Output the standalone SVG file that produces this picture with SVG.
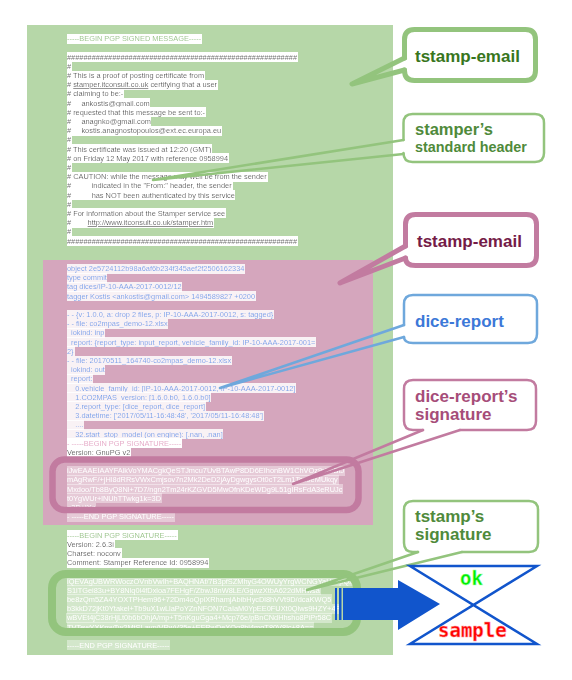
<svg xmlns="http://www.w3.org/2000/svg" width="572" height="680" viewBox="0 0 572 680">
<defs>
<filter id="hw" x="0" y="-0.3" width="1" height="1.6" primitiveUnits="objectBoundingBox"><feFlood x="0" y="0" width="1" height="1" flood-color="#ffffff" result="f"/><feMerge><feMergeNode in="f"/><feMergeNode in="SourceGraphic"/></feMerge></filter>
<filter id="hb" x="0" y="-0.3" width="1" height="1.6" primitiveUnits="objectBoundingBox"><feFlood x="0" y="0" width="1" height="1" flood-color="#ffffff" flood-opacity="0.85" result="f"/><feMerge><feMergeNode in="f"/><feMergeNode in="SourceGraphic"/></feMerge></filter>
<filter id="ht" x="0" y="-0.3" width="1" height="1.6" primitiveUnits="objectBoundingBox"><feFlood x="0" y="0" width="1" height="1" flood-color="#ffffff" flood-opacity="0.4" result="f"/><feMerge><feMergeNode in="f"/><feMergeNode in="SourceGraphic"/></feMerge></filter>
<style>
.t{font-family:"Liberation Sans",Arial,sans-serif;font-size:7.4px}
.k{fill:#222222;filter:url(#hw)}
.gh{fill:#93c47d;filter:url(#hw)}
.bl{fill:#6d9eeb;filter:url(#hb)}
.ph{fill:#e6a3c6;filter:url(#hw)}
.tr{fill:#ffffff;filter:url(#ht)}
.lbl{font-family:"Liberation Sans",Arial,sans-serif;font-weight:bold;font-size:17px}
.box{fill:none;stroke-linejoin:round;stroke-linecap:round}
.gthick{stroke:#93c47d;stroke-width:5}
.gthin{stroke:#93c47d;stroke-width:2.5}
.pthick{stroke:#c27ba0;stroke-width:5}
.pthin{stroke:#c27ba0;stroke-width:2.5}
.bthin{stroke:#6fa8dc;stroke-width:2.5}
.u{text-decoration:underline}
.st{font-family:"DejaVu Sans Mono",monospace;font-size:19px;font-weight:bold}
</style>
</defs>

<g id="panel-tstamp-email"><rect x="27" y="25" width="366" height="630" fill="#b6d7a8"/></g>
<g id="panel-dice-tag"><rect x="43" y="260" width="330" height="265" fill="#d5a6bd"/></g>

<g id="text-lines" class="t">
<text x="67" y="41.3" class="gh">-----BEGIN PGP SIGNED MESSAGE-----</text>
<text x="67" y="59.7" class="k" textLength="230" lengthAdjust="spacingAndGlyphs">########################################################</text>
<text x="67" y="68.9" class="k">#</text>
<text x="67" y="78.1" class="k"># This is a proof of posting certificate from</text>
<text x="67" y="87.3" class="k"># <tspan class="u">stamper.itconsult.co.uk</tspan> certifying that a user</text>
<text x="67" y="96.4" class="k"># claiming to be:-</text>
<text x="67" y="105.6" class="k">#&#160;&#160;&#160;&#160;&#160;ankostis@gmail.com</text>
<text x="67" y="114.8" class="k"># requested that this message be sent to:-</text>
<text x="67" y="124.0" class="k">#&#160;&#160;&#160;&#160;&#160;anagnko@gmail.com</text>
<text x="67" y="133.2" class="k">#&#160;&#160;&#160;&#160;&#160;kostis.anagnostopoulos@ext.ec.europa.eu</text>
<text x="67" y="142.4" class="k">#</text>
<text x="67" y="151.6" class="k"># This certificate was issued at 12:20 (GMT)</text>
<text x="67" y="160.8" class="k"># on Friday 12 May 2017 with reference 0958994</text>
<text x="67" y="170.0" class="k">#</text>
<text x="67" y="179.2" class="k"># CAUTION: while the message may well be from the sender</text>
<text x="67" y="188.3" class="k">#&#160;&#160;&#160;&#160;&#160;&#160;&#160;&#160;&#160;&#160;indicated in the "From:" header, the sender</text>
<text x="67" y="197.5" class="k">#&#160;&#160;&#160;&#160;&#160;&#160;&#160;&#160;&#160;&#160;has NOT been authenticated by this service</text>
<text x="67" y="206.7" class="k">#</text>
<text x="67" y="215.9" class="k"># For information about the Stamper service see</text>
<text x="67" y="225.1" class="k">#&#160;&#160;&#160;&#160;&#160;&#160;&#160;&#160;<tspan class="u">http://www.itconsult.co.uk/stamper.htm</tspan></text>
<text x="67" y="234.3" class="k">#</text>
<text x="67" y="243.5" class="k" textLength="230" lengthAdjust="spacingAndGlyphs">########################################################</text>

<text x="67" y="271.1" class="bl">object 2e5724112b98a6af6b234f345aef2f2506162334</text>
<text x="67" y="280.2" class="bl">type commit</text>
<text x="67" y="289.4" class="bl">tag dices/IP-10-AAA-2017-0012/12</text>
<text x="67" y="298.6" class="bl">tagger Kostis &lt;ankostis@gmail.com&gt; 1494589827 +0200</text>
<text x="67" y="317.0" class="bl">- - {v: 1.0.0, a: drop 2 files, p: IP-10-AAA-2017-0012, s: tagged}</text>
<text x="67" y="326.2" class="bl">- - file: co2mpas_demo-12.xlsx</text>
<text x="67" y="335.4" class="bl">&#160; iokind: inp</text>
<text x="67" y="344.6" class="bl">&#160; report: {report_type: input_report, vehicle_family_id: IP-10-AAA-2017-001=</text>
<text x="67" y="353.8" class="bl">2}</text>
<text x="67" y="363.0" class="bl">- - file: 20170511_164740-co2mpas_demo-12.xlsx</text>
<text x="67" y="372.1" class="bl">&#160; iokind: out</text>
<text x="67" y="381.3" class="bl">&#160; report:</text>
<text x="67" y="390.5" class="bl">&#160;&#160;&#160; 0.vehicle_family_id: [IP-10-AAA-2017-0012, IP-10-AAA-2017-0012]</text>
<text x="67" y="399.7" class="bl">&#160;&#160;&#160; 1.CO2MPAS_version: [1.6.0.b0, 1.6.0.b0]</text>
<text x="67" y="408.9" class="bl">&#160;&#160;&#160; 2.report_type: [dice_report, dice_report]</text>
<text x="67" y="418.1" class="bl">&#160;&#160;&#160; 3.datetime: ['2017/05/11-16:48:48', '2017/05/11-16:48:48']</text>
<text x="67" y="427.3" class="bl">&#160;&#160;&#160; ....</text>
<text x="67" y="436.5" class="bl">&#160;&#160;&#160; 32.start_stop_model (on engine): [.nan, .nan]</text>
<text x="67" y="445.7" class="ph">- -----BEGIN PGP SIGNATURE-----</text>
<text x="67" y="454.9" class="k">Version: GnuPG v2</text>
<text x="67" y="473.2" class="tr">iJwEAAEIAAYFAlkVoYMACgkQeSTJmcu7UvBTAwP8DD6EIhonBW1ChVOz9r6SBtJ</text>
<text x="67" y="482.4" class="tr">mAgRwF/+jHl8dRRsVWxCmjsov7n2Mk2DeD2jAyDgwgysOt0cT2Lm1Tcz9eMUkqy</text>
<text x="67" y="491.6" class="tr">Mxdoo/Tb8ByQ8Nl+7D7/ngn2Tm24rKZGVD5MwOfnKDeWDg9L51gIRsFdA3eRUJc</text>
<text x="67" y="500.8" class="tr">t0YgWUr+lNUhTTwkg1k=3D</text>
<text x="67" y="510.0" class="tr">=3D+lXz</text>
<text x="67" y="519.2" class="tr">- -----END PGP SIGNATURE-----</text>

<text x="67" y="537.6" class="gh">-----BEGIN PGP SIGNATURE-----</text>
<text x="67" y="546.8" class="k">Version: 2.6.3i</text>
<text x="67" y="555.9" class="k">Charset: noconv</text>
<text x="67" y="565.1" class="k">Comment: Stamper Reference Id: 0958994</text>
<text x="67" y="583.5" class="tr">iQEVAgUBWRWoczOVnbVwIh+BAQHNAf/7B3pfSZMhyG4OWUyYrgWCNGYaUv8pQx</text>
<text x="67" y="592.7" class="tr">S1lTGei83u+BY8Nlq0l4fDxloa7FEHgF/ZbwJ8nW8LE/GgwzXtbA622dMHwsa</text>
<text x="67" y="601.9" class="tr">be8zQm5ZA4YOXTPHem96+72Dm4oQpiXRhamjAbibHycDl8hVVt9D/dcaKWQ5</text>
<text x="67" y="611.1" class="tr">b3kkD72jKt0Ytakel+Tb9uX1wLlaPoYZnNFON7CaIaM0YpEE0FUXt0Qlws9HZY+4P</text>
<text x="67" y="620.3" class="tr">wBVEt4jC38rHjLt0b6bOhjA/mp+T5nKguGga4+Mcp76e/pBnCNdHhsho8PiPr58C</text>
<text x="67" y="629.5" class="tr">TVTewYXKnwTw2MtSLayp/VRwV35e+EFRwDeXOq8bj4mgT80V8lc+8A==</text>
<text x="67" y="647.8" class="tr">-----END PGP SIGNATURE-----</text>
</g>

<g id="dice-signature-outline"><rect x="52.5" y="459.5" width="306" height="50.5" rx="12" fill="none" stroke="#c27ba0" stroke-width="6.5"/></g>
<g id="tstamp-signature-outline"><rect x="52" y="574" width="305" height="58" rx="14" fill="none" stroke="#93c47d" stroke-width="8"/></g>

<g id="connectors" class="box">
<path class="gthick" d="M404.5,58 L352,84 L404.5,70"/>
<path class="gthin" d="M403.5,140 L153,180 L403.5,154"/>
<path class="pthick" d="M405.5,246 L340,283 L405.5,258"/>
<path class="bthin" d="M404,325 L220,388 L404,337"/>
<path class="pthin" d="M423,430 L293,484 L460,430"/>
<path class="gthin" d="M418,552 L307,590 L462,552"/>
</g>

<g id="callout-tstamp-email">
<path class="box gthick" d="M404.5,58 V39.5 Q404.5,29.5 414.5,29.5 H525.5 Q535.5,29.5 535.5,39.5 V70.5 Q535.5,80.5 525.5,80.5 H414.5 Q404.5,80.5 404.5,70.5 V70"/>
<text class="lbl" x="415" y="62" fill="#38761d">tstamp-email</text>
</g>
<g id="callout-stamper-header">
<path class="box gthin" d="M403.5,140 V123 Q403.5,114 412.5,114 H535 Q544,114 544,123 V153 Q544,162 535,162 H412.5 Q403.5,162 403.5,153 V154"/>
<text class="lbl" x="415" y="135" fill="#4f8a3b" style="font-size:16.5px">stamper’s</text>
<text class="lbl" x="415" y="152" fill="#4f8a3b" style="font-size:14.4px">standard header</text>
</g>
<g id="callout-dice-tag">
<path class="box pthick" d="M405.5,246 V224.5 Q405.5,214.5 415.5,214.5 H526.5 Q536.5,214.5 536.5,224.5 V255.5 Q536.5,265.5 526.5,265.5 H415.5 Q405.5,265.5 405.5,258"/>
<text class="lbl" x="417" y="247" fill="#741b47">tstamp-email</text>
</g>
<g id="callout-dice-report">
<path class="box bthin" d="M404,325 V304 Q404,295 413,295 H528 Q537,295 537,304 V334 Q537,343 528,343 H413 Q404,343 404,337"/>
<text class="lbl" x="415" y="327" fill="#3c78d8">dice-report</text>
</g>
<g id="callout-dice-signature">
<path class="box pthin" d="M460,430 H527 Q536,430 536,421 V389 Q536,380 527,380 H413 Q404,380 404,389 V421 Q404,430 413,430 H423"/>
<text class="lbl" x="415" y="402" fill="#a64d79">dice-report’s</text>
<text class="lbl" x="415" y="420" fill="#a64d79">signature</text>
</g>
<g id="callout-tstamp-signature">
<path class="box gthin" d="M462,552 H529 Q538,552 538,543 V510 Q538,501 529,501 H413 Q404,501 404,510 V543 Q404,552 413,552 H418"/>
<text class="lbl" x="415" y="522" fill="#4f8a3b">tstamp’s</text>
<text class="lbl" x="415" y="540" fill="#4f8a3b">signature</text>
</g>

<g id="arrow" fill="#1155cc">
<rect x="335" y="588" width="2" height="32"/>
<rect x="339" y="588" width="2.5" height="32"/>
<polygon points="343,588 398,588 398,580 440,604 398,630 398,620 343,620"/>
</g>

<g id="stamp">
<path d="M410,566 H537 L410,644 H537 Z" fill="none" stroke="#1155cc" stroke-width="2.5" stroke-linejoin="miter"/>
<text x="460" y="585" class="st" fill="#00ee00" stroke="#aaffaa" stroke-width="0.5">ok</text>
<text x="438" y="637" class="st" fill="#ff0000" stroke="#ff9999" stroke-width="0.5">sample</text>
</g>
</svg>
